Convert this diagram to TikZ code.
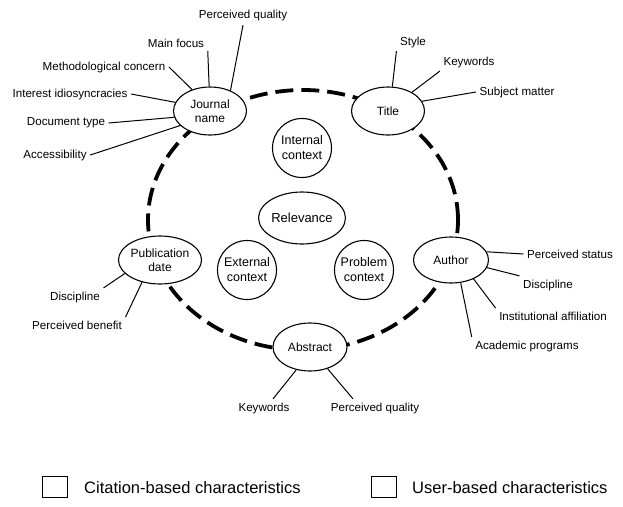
\documentclass[tikz,border=0pt]{standalone}
\usepackage{fontspec}
\setmainfont{Liberation Sans}
\usetikzlibrary{shapes.geometric}
\begin{document}
\begin{tikzpicture}[x=1pt, y=-1pt]

\tikzstyle{every node} = [inner sep=2pt]
\tikzstyle{lbl} = [inner sep=3.5pt, font=\fontsize{11.6}{13}\selectfont]
\tikzstyle{attr} = [ellipse, draw, line width=1.1pt, fill=white, inner sep=0pt,
  minimum width=73pt, minimum height=48pt, align=center,
  font=\fontsize{12}{14.5}\selectfont]
\tikzstyle{ctx} = [circle, draw, line width=1.1pt, fill=white, inner sep=0pt,
  minimum size=59pt, align=center, font=\fontsize{12.5}{15}\selectfont]
\tikzstyle{link} = [line width=1pt]
\tikzstyle{key} = [draw, line width=1pt, minimum width=25pt, minimum height=21pt]
\tikzstyle{leg} = [anchor=west, font=\fontsize{16.5}{18}\selectfont]

\useasboundingbox (0,0) rectangle (623,506);

\draw[line width=3.8pt, dash pattern=on 18pt off 8pt]
  (303,220) ellipse [x radius=155pt, y radius=130pt];

\node[attr] (jn) at (210,111) {Journal\\name};
\node[attr] (ti) at (388,111) {Title};
\node[attr, minimum width=75pt] (pd) at (160,260) {Publication\\date};
\node[attr, minimum width=75pt, minimum height=46pt] (au) at (451,260) {Author};
\node[attr, minimum width=74pt] (ab) at (310,347) {Abstract};

\node[ctx] (ic) at (302,148) {Internal\\context};
\node[attr, minimum width=74pt, minimum height=52pt,
  font=\fontsize{13}{15}\selectfont] (rel) at (302,218) {Relevance};
\node[ctx] (ec) at (247,270) {External\\context};
\node[ctx] (pc) at (364,270) {Problem\\context};

% journal name
\node[lbl] (pq1) at (243,16) {Perceived quality};
\node[lbl] (mf) at (176,43) {Main focus};
\node[lbl] (mc) at (104,67) {Methodological concern};
\node[lbl] (ii) at (70,94) {Interest idiosyncracies};
\node[lbl] (dt) at (66,123) {Document type};
\node[lbl] (ac) at (55,155) {Accessibility};

% title
\node[lbl] (st) at (413,42) {Style};
\node[lbl] (kw1) at (469,62) {Keywords};
\node[lbl] (sm) at (517,92) {Subject matter};

% publication date
\node[lbl] (di1) at (75,297) {Discipline};
\node[lbl] (pb) at (77,325) {Perceived benefit};

% abstract
\node[lbl] (kw2) at (264,408) {Keywords};
\node[lbl] (pq2) at (375,408) {Perceived quality};

% author
\node[lbl] (ps) at (570,254) {Perceived status};
\node[lbl] (di2) at (548,285) {Discipline};
\node[lbl] (ia) at (553,316) {Institutional affiliation};
\node[lbl] (ap) at (527,346) {Academic programs};

\draw[link] (pq1.south) -- (jn.45);
\draw[link] (mf.south east) -- (jn.92);
\draw[link] (mc.east) -- (jn.130);
\draw[link] (ii.east) -- (jn.166);
\draw[link] (dt.east) -- (jn.190);
\draw[link] (ac.east) -- (jn.206);

\draw[link] (st.south west) -- (ti.80);
\draw[link] (kw1.south west) -- (ti.38);
\draw[link] (sm.west) -- (ti.16);

\draw[link] (di1.north east) -- (pd.201);
\draw[link] (pb.north east) -- (pd.231);

\draw[link] ([xshift=9pt]kw2.north) -- (ab.239);
\draw[link] ([xshift=-22pt]pq2.north) -- (ab.309);

\draw[link] (ps.west) -- (au.13);
\draw[link] (di2.north west) -- (au.348);
\draw[link] (ia.north west) -- (au.320);
\draw[link] (ap.north west) -- (au.293);

% legend
\node[key] (b1) at (55,487) {};
\node[leg] (l1) at (82,488) {Citation-based characteristics};
\node[key] (b2) at (384,487) {};
\node[leg] (l2) at (410,488) {User-based characteristics};

\end{tikzpicture}
\end{document}
